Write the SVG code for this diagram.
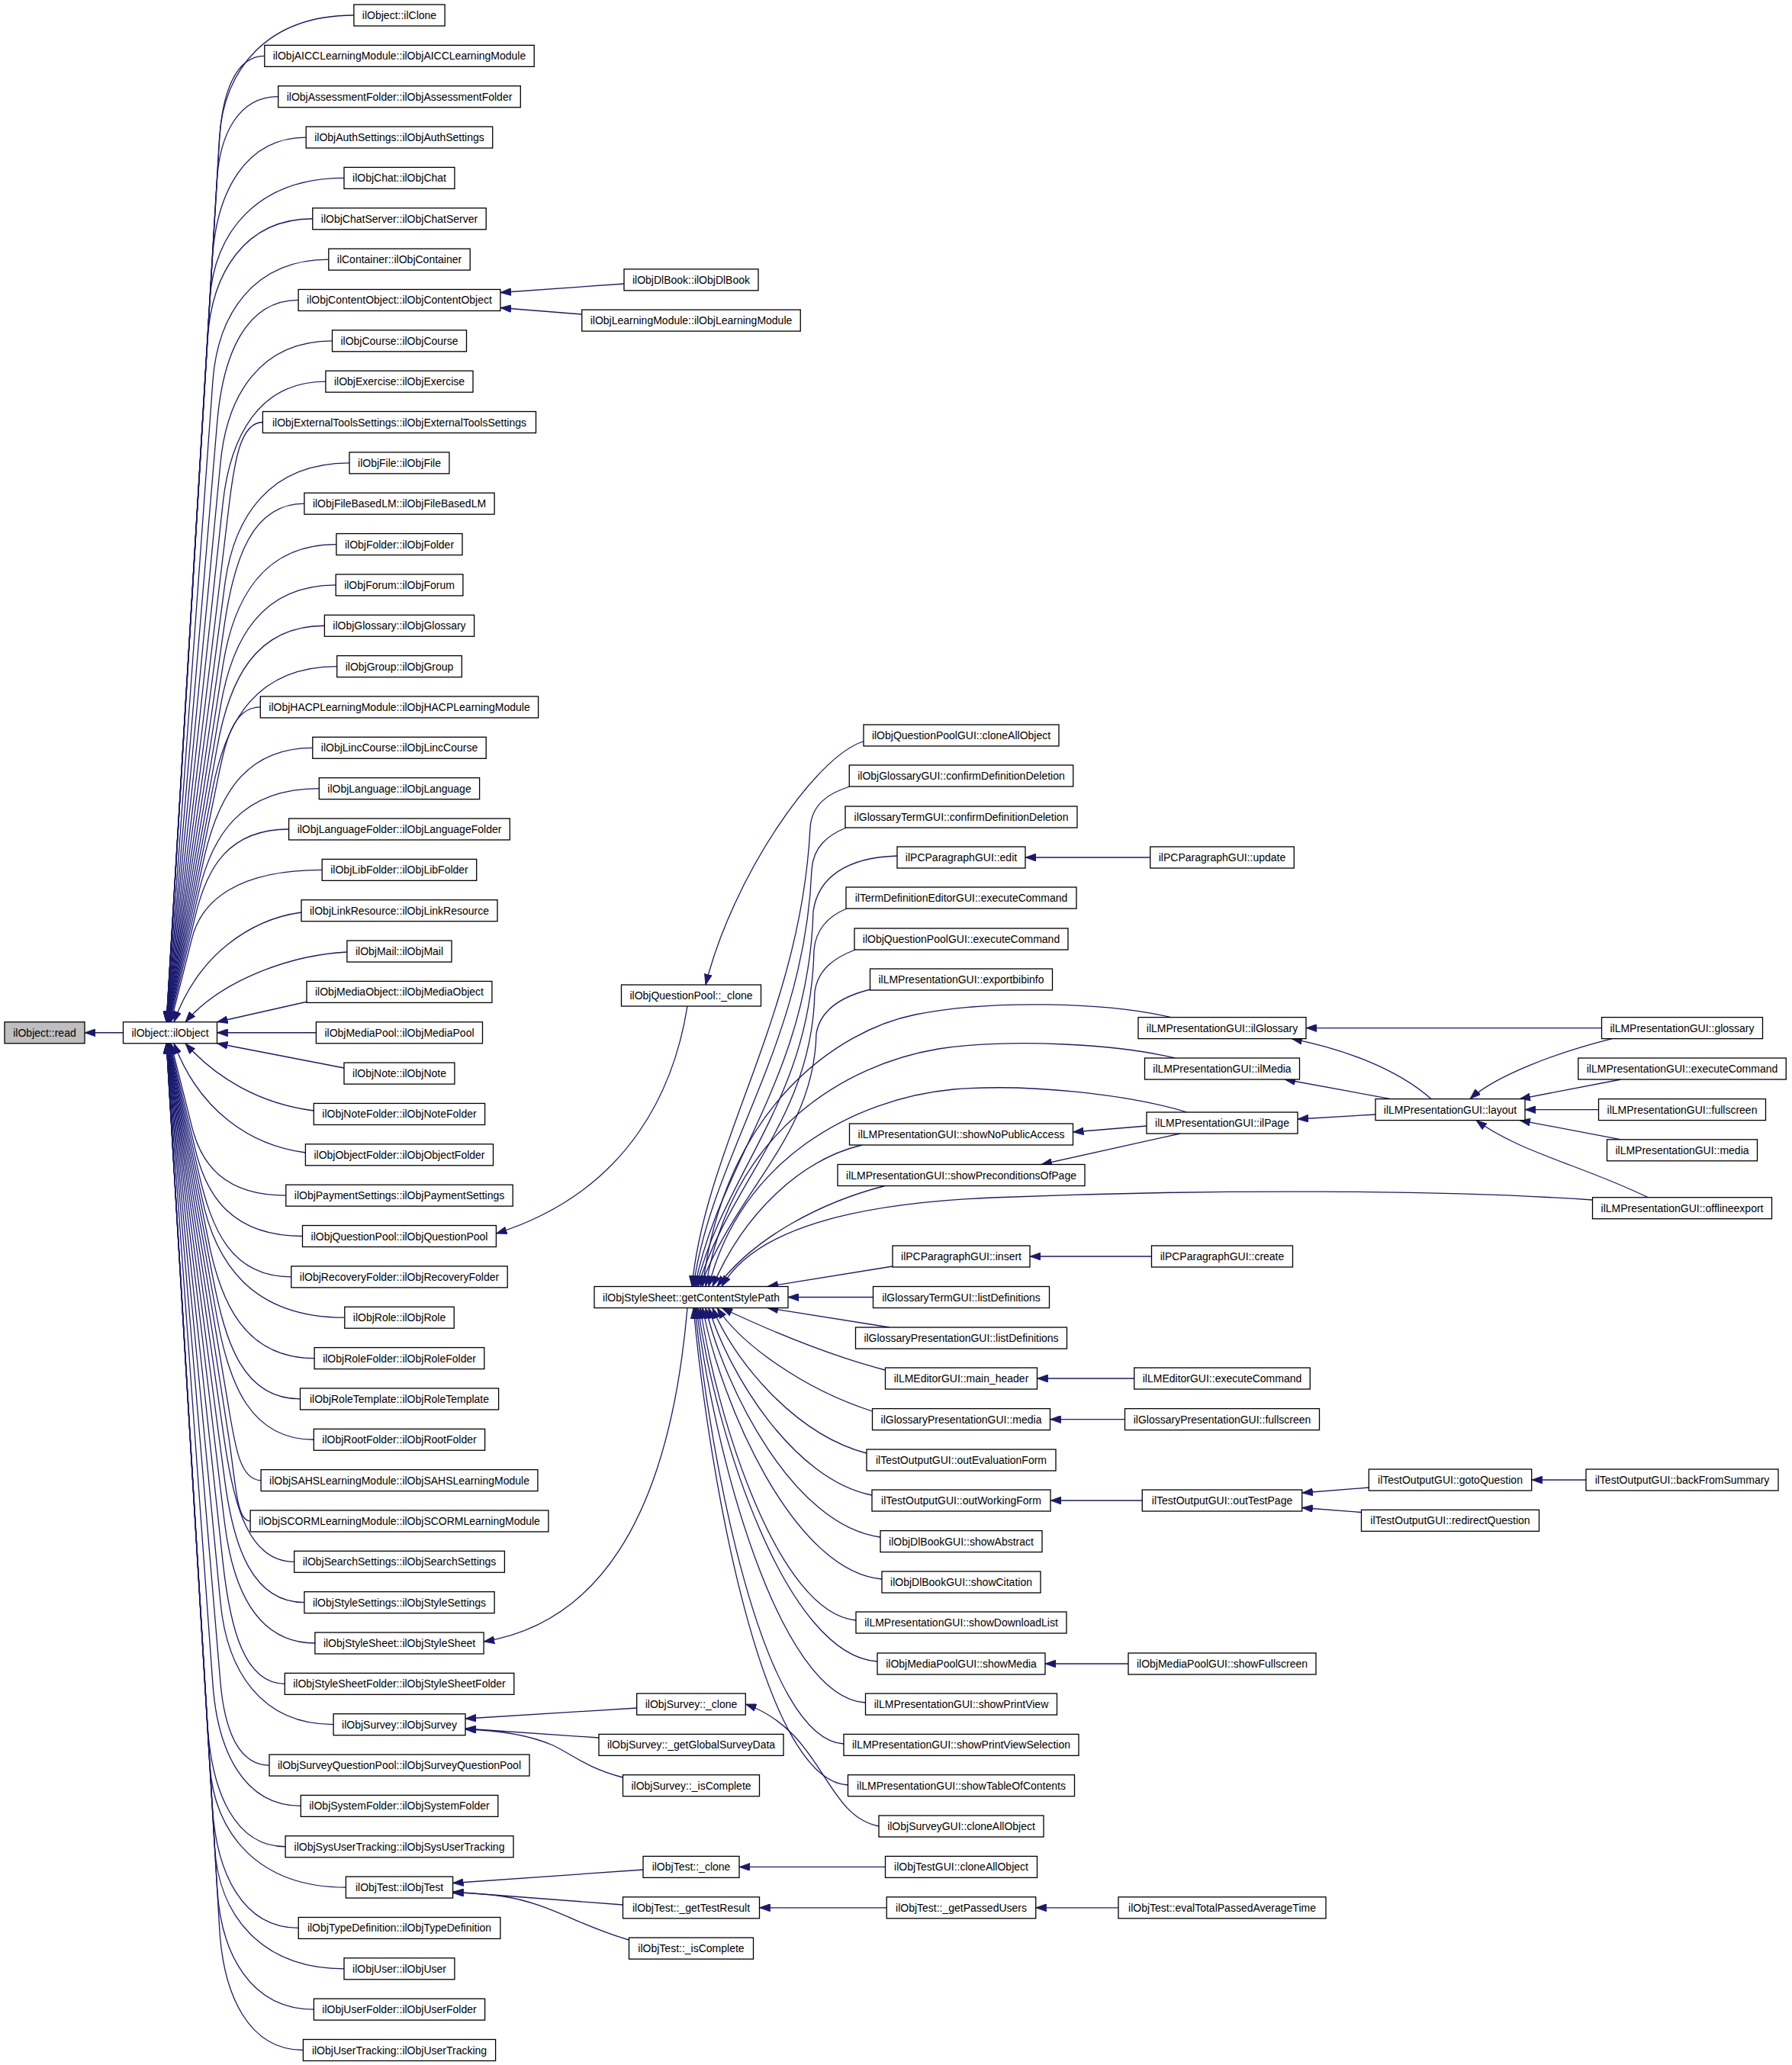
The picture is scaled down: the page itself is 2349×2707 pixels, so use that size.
<svg xmlns="http://www.w3.org/2000/svg" width="2349" height="2707" viewBox="0 0 2349 2707">
<defs>
<style>
.node rect{fill:#fff;stroke:#000;stroke-width:1.3}
.node text{font-family:"Liberation Sans",Arial,sans-serif;font-size:14px;text-anchor:middle;fill:#000}
.edges path{fill:none;stroke:#191970;stroke-width:1.3;marker-end:url(#ah)}
</style>
<marker id="ah" viewBox="0 0 14 10" refX="14" refY="5" markerWidth="14" markerHeight="10" markerUnits="userSpaceOnUse" orient="auto"><path d="M0,0 L14,5 L0,10 z" fill="#191970" stroke="#191970" stroke-width="0.8"/></marker>
</defs>
<rect width="2349" height="2707" fill="#fff"/>
<g id="edges" class="edges">
<path d="M161.5,1353.75 L111,1353.75"/>
<path d="M463.9,20 C349.4,20 293,92 287.7,180 L218.1,1339.75"/>
<path d="M346.8,73.35 C308.3,73.35 291.2,122.85 287.6,183.35 L218.2,1339.75"/>
<path d="M364.7,126.7 C312.5,126.7 288,176.2 284.4,236.7 L218.2,1339.75"/>
<path d="M401.2,180.05 C321.3,180.05 283.6,252.05 278.3,340.05 L218.3,1339.75"/>
<path d="M451,233.4 C336.7,233.4 279.9,305.4 275.1,393.4 L218.3,1339.75"/>
<path d="M409.8,286.75 C320.2,286.75 276.8,358.75 272,446.75 L218.4,1339.75"/>
<path d="M430.8,340.1 C332.1,340.1 285.2,412.1 278.9,500.1 L218.5,1339.75"/>
<path d="M391.1,393.45 C321.9,393.45 292.1,465.45 284.7,553.45 L218.6,1339.75"/>
<path d="M435.5,446.8 C340.3,446.8 297.4,518.8 289,606.8 L218.6,1339.75"/>
<path d="M426.9,500.15 C339.3,500.15 301.6,572.15 292.1,660.15 L218.75,1339.75"/>
<path d="M344.4,553.5 C315.6,553.5 307.4,603 300.1,663.5 L218.9,1339.75"/>
<path d="M458,606.85 C351.8,606.85 306.2,678.85 294.6,766.85 L219,1339.75"/>
<path d="M398.9,660.2 C330.7,660.2 306.7,732.2 294,820.2 L219.2,1339.75"/>
<path d="M440.9,713.55 C344.1,713.55 305.7,785.55 292,873.55 L219.3,1339.75"/>
<path d="M440.2,766.9 C341.9,766.9 303.7,838.9 288.9,926.9 L219.5,1339.75"/>
<path d="M425.4,820.25 C333.8,820.25 300.3,892.25 284.5,980.25 L219.8,1339.75"/>
<path d="M441.7,873.6 C335.9,873.6 295.8,945.6 278.9,1033.6 L220.1,1339.75"/>
<path d="M341.3,926.95 C302.9,926.95 294.6,976.45 282.3,1036.95 L220.5,1339.75"/>
<path d="M409.8,980.3 C315.1,980.3 281.7,1052.3 264.1,1140.3 L221,1339.75"/>
<path d="M418.3,1033.65 C315.5,1033.65 277.4,1095.6 260.1,1171.35 L221.7,1339.75"/>
<path d="M378.6,1087 C298.9,1087 271,1138.2 256,1200.7 L222.6,1339.75"/>
<path d="M422.2,1140.35 C311.3,1140.35 264,1180.7 251.6,1230.05 L224,1339.75"/>
<path d="M395,1196 C330,1205 260,1250 228,1339.75"/>
<path d="M454.9,1248 C380,1252 290,1285 243,1339.75"/>
<path d="M403,1313 L284.5,1339.75"/>
<path d="M414.4,1353.75 L284.5,1353.75"/>
<path d="M451,1400 L284.5,1367.75"/>
<path d="M411.3,1456 C340,1447 282,1412 243,1367.75"/>
<path d="M400.4,1511 C330,1502 262,1458 228,1367.75"/>
<path d="M374.8,1567.15 C294.7,1567.15 264,1526.8 251.6,1477.45 L224,1367.75"/>
<path d="M396.5,1620.5 C305.2,1620.5 271,1569.3 256,1506.8 L222.6,1367.75"/>
<path d="M381.8,1673.85 C302.7,1673.85 277.4,1611.9 260.1,1536.15 L221.7,1367.75"/>
<path d="M451.8,1727.2 C329.8,1727.2 281.4,1655.2 264.1,1567.2 L221,1367.75"/>
<path d="M412.1,1780.55 C321.1,1780.55 288.4,1708.55 272.1,1620.55 L220.5,1367.75"/>
<path d="M393.5,1833.9 C319,1833.9 295.8,1761.9 278.9,1673.9 L220.1,1367.75"/>
<path d="M411.3,1887.25 C328.9,1887.25 300.3,1815.25 284.5,1727.25 L219.8,1367.75"/>
<path d="M342.1,1940.6 C313,1940.6 307.5,1891.1 297.3,1830.6 L219.5,1367.75"/>
<path d="M328.1,1993.95 C309.7,1993.95 309.2,1944.45 299.8,1883.95 L219.3,1367.75"/>
<path d="M385.7,2047.3 C326.1,2047.3 306.7,1975.3 294,1887.3 L219.2,1367.75"/>
<path d="M398.9,2100.65 C331.1,2100.65 306.2,2028.65 294.6,1940.65 L219,1367.75"/>
<path d="M412.9,2154 C335.7,2154 304.7,2082 294.1,1994 L218.9,1367.75"/>
<path d="M373.3,2207.35 C320.5,2207.35 301.6,2135.35 292.1,2047.35 L218.75,1367.75"/>
<path d="M437.1,2260.7 C340.9,2260.7 297.4,2188.7 289,2100.7 L218.6,1367.75"/>
<path d="M353,2314.05 C311.3,2314.05 293.9,2264.55 288.8,2204.05 L218.6,1367.75"/>
<path d="M394.3,2367.4 C319.3,2367.4 285.2,2295.4 278.9,2207.4 L218.5,1367.75"/>
<path d="M374.1,2420.75 C307.7,2420.75 277.3,2348.75 272,2260.75 L218.4,1367.75"/>
<path d="M453.4,2474.1 C337.5,2474.1 280.4,2402.1 275.1,2314.1 L218.3,1367.75"/>
<path d="M391.2,2527.45 C317.8,2527.45 283.6,2455.45 278.3,2367.45 L218.3,1367.75"/>
<path d="M451,2580.8 C340.8,2580.8 286.2,2508.8 281.4,2420.8 L218.2,1367.75"/>
<path d="M411.4,2634.15 C329,2634.15 289.4,2562.15 284.6,2474.15 L218.2,1367.75"/>
<path d="M397.4,2687.5 C326.1,2687.5 292.5,2615.5 287.7,2527.5 L218.1,1367.75"/>
<path d="M818,372 L655.9,383.5"/>
<path d="M762.75,412 L655.9,403.5"/>
<path d="M901,1319 C885,1420 830,1560 650.4,1617"/>
<path d="M1132,972 C1070,990 960,1150 925,1291"/>
<path d="M901,1714.5 C885,1900 830,2120 634.1,2152"/>
<path d="M1114,1031 C1085,1040 1064,1055 1062,1085 C1050,1330 925,1500 907,1686.5"/>
<path d="M1109,1085 C1085,1095 1066,1110 1064,1140 C1055,1370 932,1515 909,1686.5"/>
<path d="M1176,1122 C1110,1124 1072,1150 1066,1195 C1060,1410 940,1530 911,1686.5"/>
<path d="M1110,1191 C1088,1200 1070,1215 1067,1245 C1063,1440 948,1540 913,1686.5"/>
<path d="M1121,1245 C1095,1255 1072,1270 1068,1300 C1065,1465 956,1550 915,1686.5"/>
<path d="M1141,1297 C1100,1307 1075,1325 1070,1355 C1067,1490 965,1560 918,1686.5"/>
<path d="M1535,1333.6 C1450,1314 1300,1310 1200,1330 C1100,1350 950,1450 921,1686.5"/>
<path d="M1540,1387 C1470,1370 1330,1360 1230,1375 C1110,1395 960,1480 925,1686.5"/>
<path d="M1556,1458 C1480,1435 1350,1420 1250,1428 C1120,1440 970,1520 929,1686.5"/>
<path d="M1130,1501 C1050,1520 975,1590 934,1686.5"/>
<path d="M1160,1554.5 C1080,1575 990,1620 940,1686.5"/>
<path d="M2087.5,1573 C1900,1560 1600,1558 1300,1570 C1120,1578 990,1610 946,1686.5"/>
<path d="M1170,1660 L1006,1686.5"/>
<path d="M1144.5,1700.5 L1033,1700.5"/>
<path d="M1166,1740 L1006,1714.5"/>
<path d="M1160.5,1796 C1080,1775 1000,1740 946,1714.5"/>
<path d="M1143.5,1850 C1050,1820 970,1760 940,1714.5"/>
<path d="M1136,1905 C1040,1880 960,1780 934,1714.5"/>
<path d="M1143,1960 C1040,1940 955,1800 929,1714.5"/>
<path d="M1154,2015 C1040,2000 950,1820 925,1714.5"/>
<path d="M1156,2070 C1040,2060 945,1840 921,1714.5"/>
<path d="M1122,2124 C1020,2115 940,1860 918,1714.5"/>
<path d="M1150,2178 C1030,2170 938,1880 915,1714.5"/>
<path d="M1134.5,2232 C1020,2225 935,1900 913,1714.5"/>
<path d="M1106,2286 C1000,2280 932,1920 911,1714.5"/>
<path d="M1111.5,2340 C1000,2335 930,1940 909,1714.5"/>
<path d="M1503,1476 L1406.5,1484"/>
<path d="M1547,1486 L1365,1526.5"/>
<path d="M1876,1440.6 C1830,1400 1760,1375 1693,1361.6"/>
<path d="M1823,1440.6 L1684,1415"/>
<path d="M1803,1461 L1701,1467"/>
<path d="M2113,1361.6 C2040,1380 1960,1410 1927,1440.6"/>
<path d="M2125,1415 L1992,1440.6"/>
<path d="M2095.5,1454.6 L1999,1454.6"/>
<path d="M2125,1493.8 L1992,1468.6"/>
<path d="M2160,1569.7 C2080,1530 1990,1510 1935,1468.6"/>
<path d="M2099.5,1347.6 L1712,1347.6"/>
<path d="M1507.75,1124 L1344,1124"/>
<path d="M1509.5,1647 L1350,1647"/>
<path d="M1486.75,1807 L1359.5,1807"/>
<path d="M1474.5,1860.6 L1376.5,1860.6"/>
<path d="M1497.25,1967 L1377,1967"/>
<path d="M1794.3,1950 L1706.75,1957"/>
<path d="M1784.5,1982.5 L1706.75,1976.5"/>
<path d="M2079,1940 L2007.7,1940"/>
<path d="M1479,2181 L1370,2181"/>
<path d="M834.7,2239 L610,2253"/>
<path d="M785,2278 L610,2266"/>
<path d="M816.5,2330 C770,2318 750,2300 725,2288 C690,2273 650,2268 610,2267"/>
<path d="M1152,2394 C1080,2380 1080,2270 977.3,2234"/>
<path d="M843,2451 L593.6,2468.5"/>
<path d="M816.5,2497 L593.6,2480"/>
<path d="M824.5,2543 C760,2525 720,2495 660,2486 C630,2482 610,2481 593.6,2481.5"/>
<path d="M1160.5,2447.4 L969,2447.4"/>
<path d="M1162.25,2500.8 L995.5,2500.8"/>
<path d="M1466,2500.8 L1357.75,2500.8"/>
</g>
<g id="n_read" class="node"><rect x="6" y="1339.75" width="105" height="28" style="fill:#bfbfbf"/><text x="58.5" y="1358.75">ilObject::read</text></g>
<g id="n_ilObject" class="node"><rect x="161.5" y="1339.75" width="123" height="28"/><text x="223" y="1358.75">ilObject::ilObject</text></g>
<g id="a0" class="node"><rect x="463.9" y="6" width="119.2" height="28"/><text x="523.5" y="25">ilObject::ilClone</text></g>
<g id="a1" class="node"><rect x="346.8" y="59.35" width="353.4" height="28"/><text x="523.5" y="78.35">ilObjAICCLearningModule::ilObjAICCLearningModule</text></g>
<g id="a2" class="node"><rect x="364.7" y="112.7" width="317.6" height="28"/><text x="523.5" y="131.7">ilObjAssessmentFolder::ilObjAssessmentFolder</text></g>
<g id="a3" class="node"><rect x="401.2" y="166.05" width="244.5" height="28"/><text x="523.5" y="185.05">ilObjAuthSettings::ilObjAuthSettings</text></g>
<g id="a4" class="node"><rect x="451" y="219.4" width="144.9" height="28"/><text x="523.5" y="238.4">ilObjChat::ilObjChat</text></g>
<g id="a5" class="node"><rect x="409.8" y="272.75" width="227.4" height="28"/><text x="523.5" y="291.75">ilObjChatServer::ilObjChatServer</text></g>
<g id="a6" class="node"><rect x="430.8" y="326.1" width="185.4" height="28"/><text x="523.5" y="345.1">ilContainer::ilObjContainer</text></g>
<g id="a7" class="node"><rect x="391.1" y="379.45" width="264.8" height="28"/><text x="523.5" y="398.45">ilObjContentObject::ilObjContentObject</text></g>
<g id="a8" class="node"><rect x="435.5" y="432.8" width="176" height="28"/><text x="523.5" y="451.8">ilObjCourse::ilObjCourse</text></g>
<g id="a9" class="node"><rect x="426.9" y="486.15" width="193.1" height="28"/><text x="523.5" y="505.15">ilObjExercise::ilObjExercise</text></g>
<g id="a10" class="node"><rect x="344.4" y="539.5" width="358.1" height="28"/><text x="523.5" y="558.5">ilObjExternalToolsSettings::ilObjExternalToolsSettings</text></g>
<g id="a11" class="node"><rect x="458" y="592.85" width="130.9" height="28"/><text x="523.5" y="611.85">ilObjFile::ilObjFile</text></g>
<g id="a12" class="node"><rect x="398.9" y="646.2" width="249.2" height="28"/><text x="523.5" y="665.2">ilObjFileBasedLM::ilObjFileBasedLM</text></g>
<g id="a13" class="node"><rect x="440.9" y="699.55" width="165.1" height="28"/><text x="523.5" y="718.55">ilObjFolder::ilObjFolder</text></g>
<g id="a14" class="node"><rect x="440.2" y="752.9" width="166.7" height="28"/><text x="523.5" y="771.9">ilObjForum::ilObjForum</text></g>
<g id="a15" class="node"><rect x="425.4" y="806.25" width="196.2" height="28"/><text x="523.5" y="825.25">ilObjGlossary::ilObjGlossary</text></g>
<g id="a16" class="node"><rect x="441.7" y="859.6" width="163.6" height="28"/><text x="523.5" y="878.6">ilObjGroup::ilObjGroup</text></g>
<g id="a17" class="node"><rect x="341.3" y="912.95" width="364.3" height="28"/><text x="523.5" y="931.95">ilObjHACPLearningModule::ilObjHACPLearningModule</text></g>
<g id="a18" class="node"><rect x="409.8" y="966.3" width="227.4" height="28"/><text x="523.5" y="985.3">ilObjLincCourse::ilObjLincCourse</text></g>
<g id="a19" class="node"><rect x="418.3" y="1019.65" width="210.3" height="28"/><text x="523.5" y="1038.65">ilObjLanguage::ilObjLanguage</text></g>
<g id="a20" class="node"><rect x="378.6" y="1073" width="289.7" height="28"/><text x="523.5" y="1092">ilObjLanguageFolder::ilObjLanguageFolder</text></g>
<g id="a21" class="node"><rect x="422.2" y="1126.35" width="202.5" height="28"/><text x="523.5" y="1145.35">ilObjLibFolder::ilObjLibFolder</text></g>
<g id="a22" class="node"><rect x="395" y="1179.7" width="257" height="28"/><text x="523.5" y="1198.7">ilObjLinkResource::ilObjLinkResource</text></g>
<g id="a23" class="node"><rect x="454.9" y="1233.05" width="137.1" height="28"/><text x="523.5" y="1252.05">ilObjMail::ilObjMail</text></g>
<g id="a24" class="node"><rect x="402" y="1286.4" width="242.9" height="28"/><text x="523.5" y="1305.4">ilObjMediaObject::ilObjMediaObject</text></g>
<g id="a25" class="node"><rect x="414.4" y="1339.75" width="218.1" height="28"/><text x="523.5" y="1358.75">ilObjMediaPool::ilObjMediaPool</text></g>
<g id="a26" class="node"><rect x="451" y="1393.1" width="144.9" height="28"/><text x="523.5" y="1412.1">ilObjNote::ilObjNote</text></g>
<g id="a27" class="node"><rect x="411.3" y="1446.45" width="224.3" height="28"/><text x="523.5" y="1465.45">ilObjNoteFolder::ilObjNoteFolder</text></g>
<g id="a28" class="node"><rect x="400.4" y="1499.8" width="246.1" height="28"/><text x="523.5" y="1518.8">ilObjObjectFolder::ilObjObjectFolder</text></g>
<g id="a29" class="node"><rect x="374.8" y="1553.15" width="297.4" height="28"/><text x="523.5" y="1572.15">ilObjPaymentSettings::ilObjPaymentSettings</text></g>
<g id="a30" class="node"><rect x="396.5" y="1606.5" width="253.9" height="28"/><text x="523.5" y="1625.5">ilObjQuestionPool::ilObjQuestionPool</text></g>
<g id="a31" class="node"><rect x="381.8" y="1659.85" width="283.4" height="28"/><text x="523.5" y="1678.85">ilObjRecoveryFolder::ilObjRecoveryFolder</text></g>
<g id="a32" class="node"><rect x="451.8" y="1713.2" width="143.4" height="28"/><text x="523.5" y="1732.2">ilObjRole::ilObjRole</text></g>
<g id="a33" class="node"><rect x="412.1" y="1766.55" width="222.7" height="28"/><text x="523.5" y="1785.55">ilObjRoleFolder::ilObjRoleFolder</text></g>
<g id="a34" class="node"><rect x="393.5" y="1819.9" width="260.1" height="28"/><text x="523.5" y="1838.9">ilObjRoleTemplate::ilObjRoleTemplate</text></g>
<g id="a35" class="node"><rect x="411.3" y="1873.25" width="224.3" height="28"/><text x="523.5" y="1892.25">ilObjRootFolder::ilObjRootFolder</text></g>
<g id="a36" class="node"><rect x="342.1" y="1926.6" width="362.8" height="28"/><text x="523.5" y="1945.6">ilObjSAHSLearningModule::ilObjSAHSLearningModule</text></g>
<g id="a37" class="node"><rect x="328.1" y="1979.95" width="390.8" height="28"/><text x="523.5" y="1998.95">ilObjSCORMLearningModule::ilObjSCORMLearningModule</text></g>
<g id="a38" class="node"><rect x="385.7" y="2033.3" width="275.7" height="28"/><text x="523.5" y="2052.3">ilObjSearchSettings::ilObjSearchSettings</text></g>
<g id="a39" class="node"><rect x="398.9" y="2086.65" width="249.2" height="28"/><text x="523.5" y="2105.65">ilObjStyleSettings::ilObjStyleSettings</text></g>
<g id="a40" class="node"><rect x="412.9" y="2140" width="221.2" height="28"/><text x="523.5" y="2159">ilObjStyleSheet::ilObjStyleSheet</text></g>
<g id="a41" class="node"><rect x="373.3" y="2193.35" width="300.5" height="28"/><text x="523.5" y="2212.35">ilObjStyleSheetFolder::ilObjStyleSheetFolder</text></g>
<g id="a42" class="node"><rect x="437.1" y="2246.7" width="172.9" height="28"/><text x="523.5" y="2265.7">ilObjSurvey::ilObjSurvey</text></g>
<g id="a43" class="node"><rect x="353" y="2300.05" width="341" height="28"/><text x="523.5" y="2319.05">ilObjSurveyQuestionPool::ilObjSurveyQuestionPool</text></g>
<g id="a44" class="node"><rect x="394.3" y="2353.4" width="258.5" height="28"/><text x="523.5" y="2372.4">ilObjSystemFolder::ilObjSystemFolder</text></g>
<g id="a45" class="node"><rect x="374.1" y="2406.75" width="298.9" height="28"/><text x="523.5" y="2425.75">ilObjSysUserTracking::ilObjSysUserTracking</text></g>
<g id="a46" class="node"><rect x="453.4" y="2460.1" width="140.2" height="28"/><text x="523.5" y="2479.1">ilObjTest::ilObjTest</text></g>
<g id="a47" class="node"><rect x="391.2" y="2513.45" width="264.7" height="28"/><text x="523.5" y="2532.45">ilObjTypeDefinition::ilObjTypeDefinition</text></g>
<g id="a48" class="node"><rect x="451" y="2566.8" width="144.9" height="28"/><text x="523.5" y="2585.8">ilObjUser::ilObjUser</text></g>
<g id="a49" class="node"><rect x="411.4" y="2620.15" width="224.2" height="28"/><text x="523.5" y="2639.15">ilObjUserFolder::ilObjUserFolder</text></g>
<g id="a50" class="node"><rect x="397.4" y="2673.5" width="252.2" height="28"/><text x="523.5" y="2692.5">ilObjUserTracking::ilObjUserTracking</text></g>
<g id="b_dlbook" class="node"><rect x="818" y="352.8" width="176" height="28"/><text x="906" y="371.8">ilObjDlBook::ilObjDlBook</text></g>
<g id="b_lm" class="node"><rect x="762.75" y="406.1" width="286.5" height="28"/><text x="906" y="425.1">ilObjLearningModule::ilObjLearningModule</text></g>
<g id="b_qpclone" class="node"><rect x="814.5" y="1291" width="183" height="28"/><text x="906" y="1310">ilObjQuestionPool::_clone</text></g>
<g id="b_gcsp" class="node"><rect x="779" y="1686.5" width="254" height="28"/><text x="906" y="1705.5">ilObjStyleSheet::getContentStylePath</text></g>
<g id="b_svclone" class="node"><rect x="834.7" y="2220" width="142.6" height="28"/><text x="906" y="2239">ilObjSurvey::_clone</text></g>
<g id="b_svglobal" class="node"><rect x="785" y="2273.4" width="242" height="28"/><text x="906" y="2292.4">ilObjSurvey::_getGlobalSurveyData</text></g>
<g id="b_svcomplete" class="node"><rect x="816.5" y="2326.7" width="179" height="28"/><text x="906" y="2345.7">ilObjSurvey::_isComplete</text></g>
<g id="b_tclone" class="node"><rect x="843" y="2433.4" width="126" height="28"/><text x="906" y="2452.4">ilObjTest::_clone</text></g>
<g id="b_tresult" class="node"><rect x="816.5" y="2486.8" width="179" height="28"/><text x="906" y="2505.8">ilObjTest::_getTestResult</text></g>
<g id="b_tcomplete" class="node"><rect x="824.5" y="2540.1" width="163" height="28"/><text x="906" y="2559.1">ilObjTest::_isComplete</text></g>
<g id="c_qpguiclone" class="node"><rect x="1132" y="950" width="256" height="28"/><text x="1260" y="969">ilObjQuestionPoolGUI::cloneAllObject</text></g>
<g id="c_ogconfirm" class="node"><rect x="1113.25" y="1003" width="293.5" height="28"/><text x="1260" y="1022">ilObjGlossaryGUI::confirmDefinitionDeletion</text></g>
<g id="c_gtconfirm" class="node"><rect x="1108" y="1057" width="304" height="28"/><text x="1260" y="1076">ilGlossaryTermGUI::confirmDefinitionDeletion</text></g>
<g id="c_edit" class="node"><rect x="1176" y="1110" width="168" height="28"/><text x="1260" y="1129">ilPCParagraphGUI::edit</text></g>
<g id="c_tdeexec" class="node"><rect x="1109" y="1163" width="302" height="28"/><text x="1260" y="1182">ilTermDefinitionEditorGUI::executeCommand</text></g>
<g id="c_qpguiexec" class="node"><rect x="1120" y="1217" width="280" height="28"/><text x="1260" y="1236">ilObjQuestionPoolGUI::executeCommand</text></g>
<g id="c_exportbib" class="node"><rect x="1140.5" y="1270" width="239" height="28"/><text x="1260" y="1289">ilLMPresentationGUI::exportbibinfo</text></g>
<g id="c_nopublic" class="node"><rect x="1113.5" y="1473" width="293" height="28"/><text x="1260" y="1492">ilLMPresentationGUI::showNoPublicAccess</text></g>
<g id="c_precond" class="node"><rect x="1098" y="1526.5" width="324" height="28"/><text x="1260" y="1545.5">ilLMPresentationGUI::showPreconditionsOfPage</text></g>
<g id="c_insert" class="node"><rect x="1170" y="1633" width="180" height="28"/><text x="1260" y="1652">ilPCParagraphGUI::insert</text></g>
<g id="c_gtlist" class="node"><rect x="1144.5" y="1686.5" width="231" height="28"/><text x="1260" y="1705.5">ilGlossaryTermGUI::listDefinitions</text></g>
<g id="c_gplist" class="node"><rect x="1121.5" y="1740" width="277" height="28"/><text x="1260" y="1759">ilGlossaryPresentationGUI::listDefinitions</text></g>
<g id="c_mainheader" class="node"><rect x="1160.5" y="1793" width="199" height="28"/><text x="1260" y="1812">ilLMEditorGUI::main_header</text></g>
<g id="c_gpmedia" class="node"><rect x="1143.5" y="1846.6" width="233" height="28"/><text x="1260" y="1865.6">ilGlossaryPresentationGUI::media</text></g>
<g id="c_outeval" class="node"><rect x="1136" y="1900" width="248" height="28"/><text x="1260" y="1919">ilTestOutputGUI::outEvaluationForm</text></g>
<g id="c_outworking" class="node"><rect x="1143" y="1953" width="234" height="28"/><text x="1260" y="1972">ilTestOutputGUI::outWorkingForm</text></g>
<g id="c_abstract" class="node"><rect x="1154" y="2006.6" width="212" height="28"/><text x="1260" y="2025.6">ilObjDlBookGUI::showAbstract</text></g>
<g id="c_citation" class="node"><rect x="1156" y="2060" width="208" height="28"/><text x="1260" y="2079">ilObjDlBookGUI::showCitation</text></g>
<g id="c_download" class="node"><rect x="1122" y="2113" width="276" height="28"/><text x="1260" y="2132">ilLMPresentationGUI::showDownloadList</text></g>
<g id="c_showmedia" class="node"><rect x="1150" y="2167" width="220" height="28"/><text x="1260" y="2186">ilObjMediaPoolGUI::showMedia</text></g>
<g id="c_printview" class="node"><rect x="1134.5" y="2220" width="251" height="28"/><text x="1260" y="2239">ilLMPresentationGUI::showPrintView</text></g>
<g id="c_printsel" class="node"><rect x="1106" y="2273.4" width="308" height="28"/><text x="1260" y="2292.4">ilLMPresentationGUI::showPrintViewSelection</text></g>
<g id="c_toc" class="node"><rect x="1111.5" y="2326.7" width="297" height="28"/><text x="1260" y="2345.7">ilLMPresentationGUI::showTableOfContents</text></g>
<g id="c_svguiclone" class="node"><rect x="1152" y="2380" width="216" height="28"/><text x="1260" y="2399">ilObjSurveyGUI::cloneAllObject</text></g>
<g id="c_tguiclone" class="node"><rect x="1160.5" y="2433.4" width="199" height="28"/><text x="1260" y="2452.4">ilObjTestGUI::cloneAllObject</text></g>
<g id="c_passed" class="node"><rect x="1162.25" y="2486.8" width="195.5" height="28"/><text x="1260" y="2505.8">ilObjTest::_getPassedUsers</text></g>
<g id="d_ilglossary" class="node"><rect x="1492" y="1333.6" width="220" height="28"/><text x="1602" y="1352.6">ilLMPresentationGUI::ilGlossary</text></g>
<g id="d_ilmedia" class="node"><rect x="1500.5" y="1387" width="203" height="28"/><text x="1602" y="1406">ilLMPresentationGUI::ilMedia</text></g>
<g id="d_ilpage" class="node"><rect x="1503" y="1458" width="198" height="28"/><text x="1602" y="1477">ilLMPresentationGUI::ilPage</text></g>
<g id="d_update" class="node"><rect x="1507.75" y="1110" width="188.5" height="28"/><text x="1602" y="1129">ilPCParagraphGUI::update</text></g>
<g id="d_create" class="node"><rect x="1509.5" y="1633" width="185" height="28"/><text x="1602" y="1652">ilPCParagraphGUI::create</text></g>
<g id="d_lmeexec" class="node"><rect x="1486.75" y="1793" width="230.5" height="28"/><text x="1602" y="1812">ilLMEditorGUI::executeCommand</text></g>
<g id="d_gpfull" class="node"><rect x="1474.5" y="1846.6" width="255" height="28"/><text x="1602" y="1865.6">ilGlossaryPresentationGUI::fullscreen</text></g>
<g id="d_outtest" class="node"><rect x="1497.25" y="1953" width="209.5" height="28"/><text x="1602" y="1972">ilTestOutputGUI::outTestPage</text></g>
<g id="d_showfull" class="node"><rect x="1479" y="2167" width="246" height="28"/><text x="1602" y="2186">ilObjMediaPoolGUI::showFullscreen</text></g>
<g id="d_evaltotal" class="node"><rect x="1466" y="2486.8" width="272" height="28"/><text x="1602" y="2505.8">ilObjTest::evalTotalPassedAverageTime</text></g>
<g id="e_layout" class="node"><rect x="1803" y="1440.6" width="196" height="28"/><text x="1901" y="1459.6">ilLMPresentationGUI::layout</text></g>
<g id="e_goto" class="node"><rect x="1794.3" y="1926" width="213.4" height="28"/><text x="1901" y="1945">ilTestOutputGUI::gotoQuestion</text></g>
<g id="e_redirect" class="node"><rect x="1784.5" y="1979.3" width="233" height="28"/><text x="1901" y="1998.3">ilTestOutputGUI::redirectQuestion</text></g>
<g id="f_glossary" class="node"><rect x="2099.5" y="1333.6" width="211" height="28"/><text x="2205" y="1352.6">ilLMPresentationGUI::glossary</text></g>
<g id="f_exec" class="node"><rect x="2068.75" y="1387" width="272.5" height="28"/><text x="2205" y="1406">ilLMPresentationGUI::executeCommand</text></g>
<g id="f_fullscreen" class="node"><rect x="2095.5" y="1440.6" width="219" height="28"/><text x="2205" y="1459.6">ilLMPresentationGUI::fullscreen</text></g>
<g id="f_media" class="node"><rect x="2106.5" y="1493.8" width="197" height="28"/><text x="2205" y="1512.8">ilLMPresentationGUI::media</text></g>
<g id="f_offline" class="node"><rect x="2087.5" y="1569.7" width="235" height="28"/><text x="2205" y="1588.7">ilLMPresentationGUI::offlineexport</text></g>
<g id="f_back" class="node"><rect x="2079" y="1926" width="252" height="28"/><text x="2205" y="1945">ilTestOutputGUI::backFromSummary</text></g>
</svg>
